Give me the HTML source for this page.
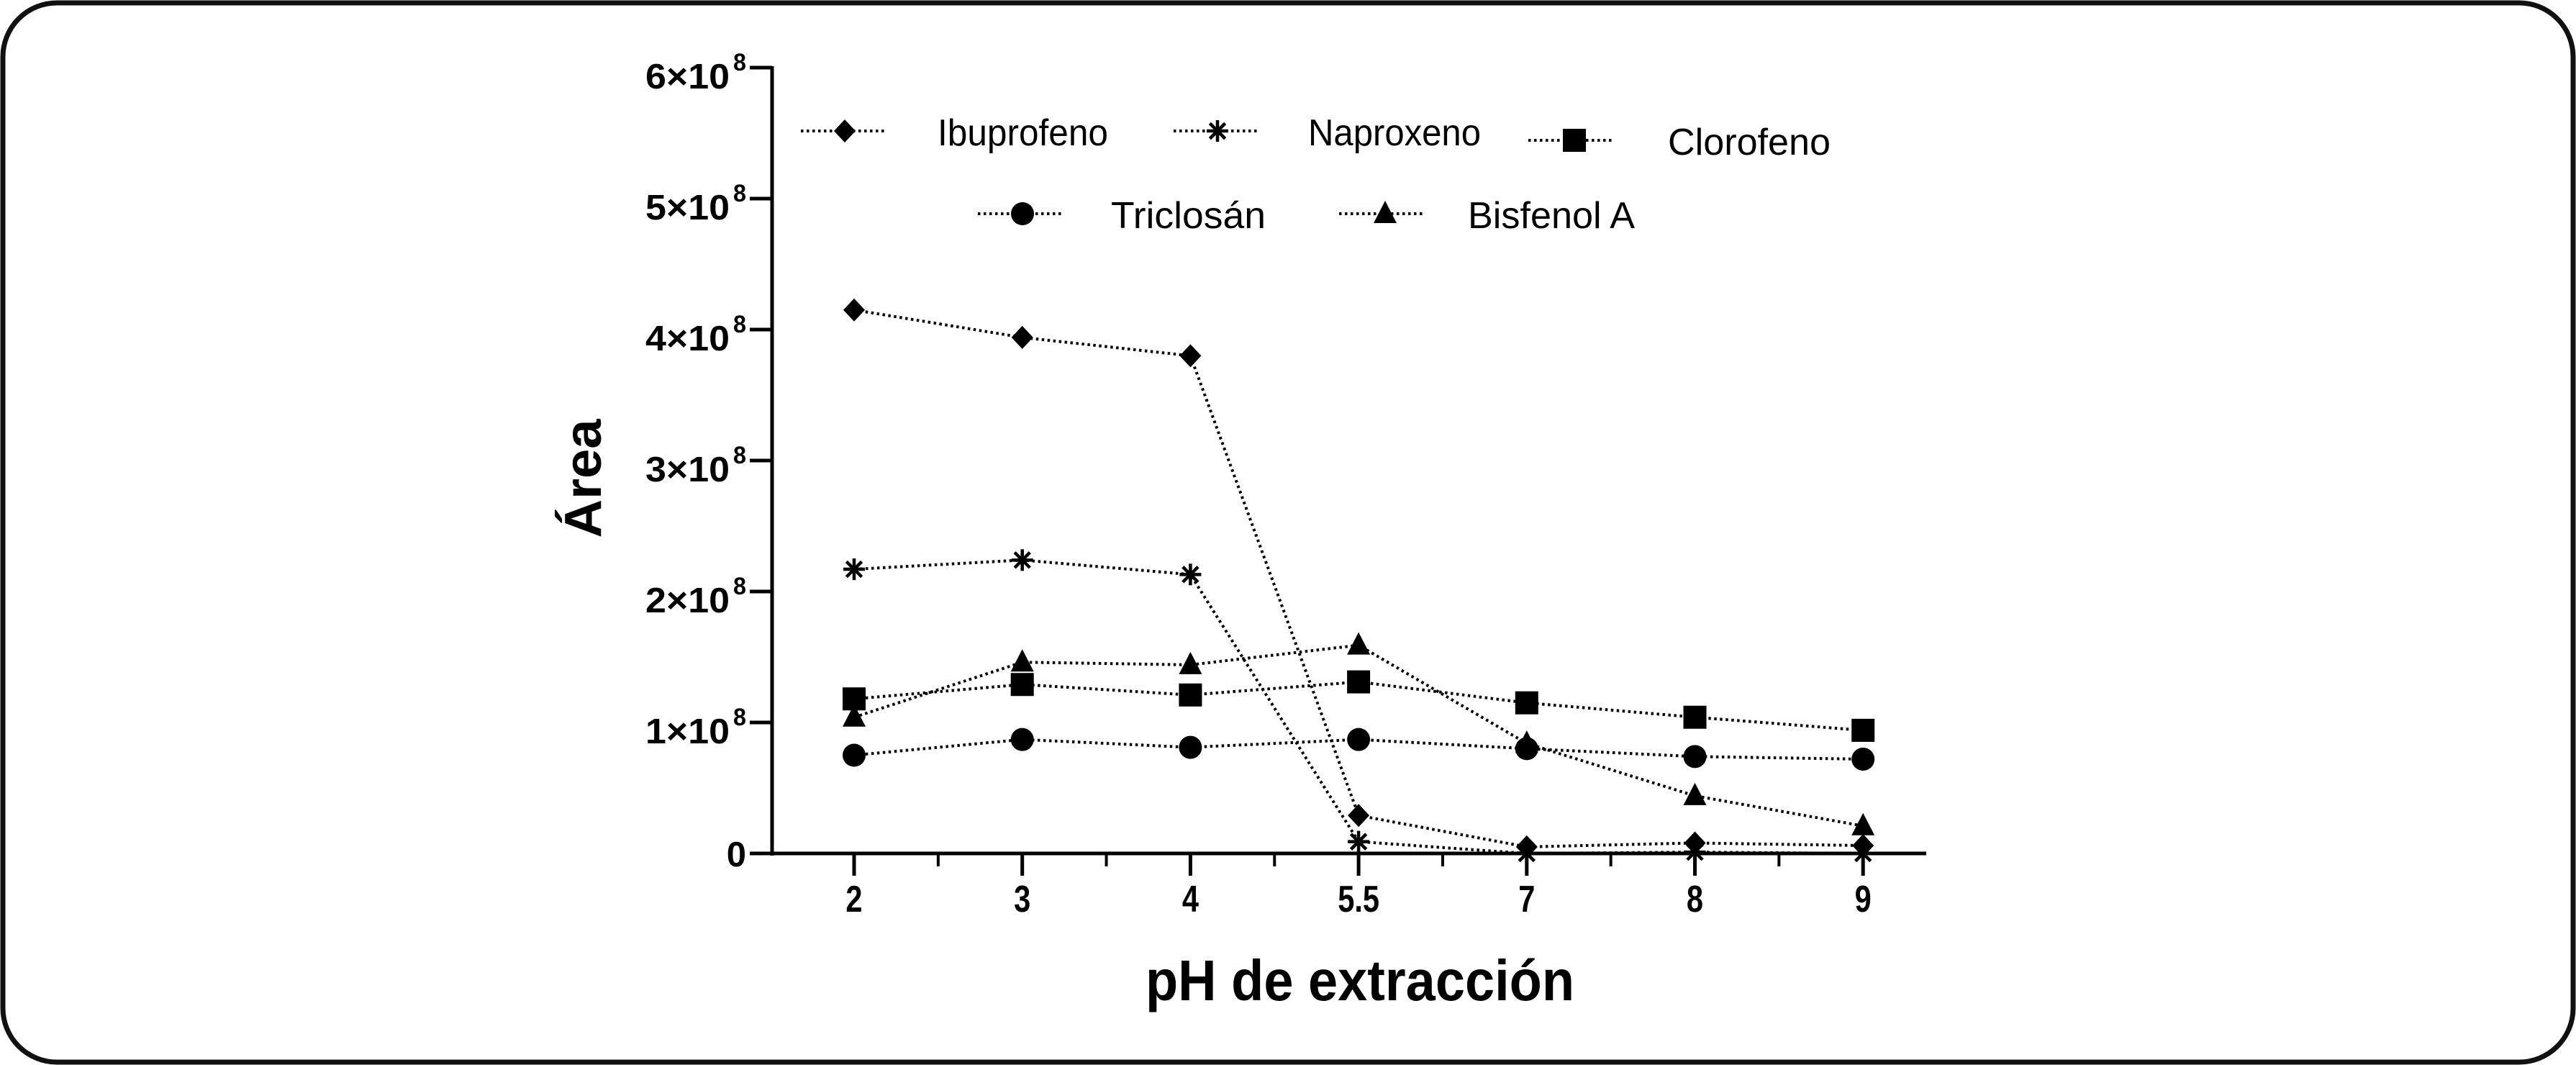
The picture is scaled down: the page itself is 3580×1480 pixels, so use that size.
<!DOCTYPE html>
<html><head><meta charset="utf-8"><style>
html,body{margin:0;padding:0;background:#fff;}
svg{display:block;}
text{font-family:"Liberation Sans",sans-serif;fill:#000;}
</style></head><body>
<svg id="chart" width="3580" height="1480" viewBox="0 0 3580 1480">
<rect x="4" y="4" width="3572" height="1472" rx="75" ry="75" fill="#fff" stroke="#111" stroke-width="7"/>
<g id="axes"></g>
<g id="series"></g>
<g id="legend"></g>
</svg>
<script>
const categories = ["2","3","4","5.5","7","8","9"];
const yTicks = [0,1,2,3,4,5,6];
const ibuprofeno = [4.15,3.94,3.80,0.29,0.05,0.08,0.06];
const naproxeno = [2.17,2.24,2.13,0.09,0.0,0.01,0.0];
const clorofeno = [1.18,1.29,1.21,1.31,1.15,1.04,0.94];
const triclosan = [0.75,0.87,0.81,0.87,0.80,0.74,0.72];
const bisfenol = [1.04,1.46,1.44,1.59,0.84,0.44,0.21];

const NS="http://www.w3.org/2000/svg";
const X0=1187, XSTEP=233.7, Y0=1186, YUNIT=182;
function xs(i){return X0+i*XSTEP;}
function ys(v){return Y0-v*YUNIT;}
function mk(tag,attrs,parent){const e=document.createElementNS(NS,tag);for(const k in attrs)e.setAttribute(k,attrs[k]);parent.appendChild(e);return e;}
const axes=document.getElementById('axes'), ser=document.getElementById('series'), leg=document.getElementById('legend');

let ya=mk('line',{x1:1073,y1:ys(6)-2,x2:1073,y2:Y0+3,stroke:'#000','stroke-width':5},axes);


let xa=mk('line',{x1:1071,y1:Y0,x2:2677,y2:Y0,stroke:'#000','stroke-width':5},axes);


yTicks.forEach(v=>{
  const y=ys(v);
  const t=mk('line',{x1:1042,y1:y,x2:1073,y2:y,stroke:'#000','stroke-width':5},axes);
  
  
  if(v===0){
    const tx=mk('text',{x:1037,y:y+18,'text-anchor':'end','font-size':49,'font-weight':'bold'},axes);
    
    
    tx.textContent='0';
  } else {
    const tx=mk('text',{x:897,y:y+29,'font-size':49,'font-weight':'bold',textLength:117,lengthAdjust:'spacingAndGlyphs'},axes);
    
    
    tx.textContent=v+'×10';
    const sp=mk('text',{x:1019,y:y+4,'font-size':34,'font-weight':'bold',textLength:18,lengthAdjust:'spacingAndGlyphs'},axes);
    
    
    sp.textContent='8';
  }
});
categories.forEach((c,i)=>{
  const x=xs(i);
  const t=mk('line',{x1:x,y1:Y0,x2:x,y2:Y0+31,stroke:'#000','stroke-width':5},axes);
  
  
  if(i<categories.length-1){
    const m=mk('line',{x1:x+XSTEP/2,y1:Y0,x2:x+XSTEP/2,y2:Y0+18,stroke:'#000','stroke-width':4},axes);
    
    
  }
  const tx=mk('text',{x:0,y:0,transform:`translate(${x},1267) scale(0.8,1)`,'text-anchor':'middle','font-size':52,'font-weight':'bold'},axes);
  
  
  tx.textContent=c;
});
let yt=mk('text',{x:0,y:0,transform:'translate(835,665) rotate(-90)','text-anchor':'middle','font-size':72,'font-weight':'bold',textLength:165,lengthAdjust:'spacingAndGlyphs'},axes);


yt.textContent='Área';
let xt=mk('text',{x:1592,y:1390,'font-size':80,'font-weight':'bold',textLength:596,lengthAdjust:'spacingAndGlyphs'},axes);


xt.textContent='pH de extracción';

function marker(type,cx,cy,parent){
  let e;
  if(type==='diamond'){e=mk('polygon',{points:`${cx},${cy-16} ${cx+15},${cy} ${cx},${cy+16} ${cx-15},${cy}`,fill:'#000'},parent);}
  else if(type==='square'){e=mk('rect',{x:cx-16,y:cy-16,width:32,height:32,fill:'#000'},parent);}
  else if(type==='circle'){e=mk('ellipse',{cx:cx,cy:cy,rx:16,ry:16,fill:'#000'},parent);}
  else if(type==='triangle'){e=mk('polygon',{points:`${cx},${cy-18} ${cx+16},${cy+13} ${cx-16},${cy+13}`,fill:'#000'},parent);}
  else {
    e=mk('g',{},parent);
    for(let a=0;a<4;a++){const ang=a*Math.PI/4+Math.PI/2;mk('line',{x1:cx-15*Math.cos(ang),y1:cy-15*Math.sin(ang),x2:cx+15*Math.cos(ang),y2:cy+15*Math.sin(ang),stroke:'#000','stroke-width':4.5},e);}
  }
  return e;
}
const seriesList=[
  {name:'ibuprofeno',label:'Ibuprofeno',data:ibuprofeno,m:'diamond'},
  {name:'naproxeno',label:'Naproxeno',data:naproxeno,m:'star'},
  {name:'clorofeno',label:'Clorofeno',data:clorofeno,m:'square'},
  {name:'triclosan',label:'Triclosán',data:triclosan,m:'circle'},
  {name:'bisfenol-a',label:'Bisfenol A',data:bisfenol,m:'triangle'}
];
seriesList.forEach(s=>{
  const g=mk('g',{},ser);
  
  
  const pts=s.data.map((v,i)=>xs(i)+','+ys(v)).join(' ');
  const pl=mk('polyline',{points:pts,fill:'none',stroke:'#000','stroke-width':4,'stroke-dasharray':'3.5 4.5'},g);
  
  
  s.data.forEach((v,i)=>{
    const m=marker(s.m,xs(i),ys(v),g);
    
    
  });
});
const legPos=[[1113,1174,1303,182,237],[1631,1692,1818,182,240],[2124,2188,2318,195,226],[1359,1421,1544,297,215],[1861,1925,2040,297,232]];
seriesList.forEach((s,k)=>{
  const [lx,mx,tx,y,tw]=legPos[k];
  const g=mk('g',{},leg);
  
  
  mk('line',{x1:lx,y1:y,x2:lx+118,y2:y,stroke:'#000','stroke-width':4,'stroke-dasharray':'3.5 4.5'},g);
  marker(s.m,mx,y,g);
  const t=mk('text',{x:tx,y:y+20,'font-size':52,textLength:tw,lengthAdjust:'spacingAndGlyphs'},g);
  
  
  t.textContent=s.label;
});
</script>
</body></html>
